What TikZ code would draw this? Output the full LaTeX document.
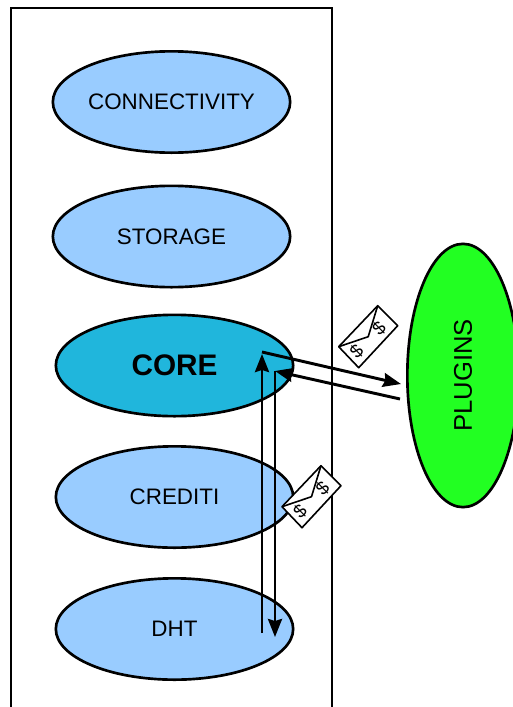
\documentclass[tikz,border=0pt]{standalone}
\usepackage{fontspec}
\setmainfont{Liberation Sans}
\usetikzlibrary{shapes.geometric,arrows.meta}
\definecolor{bubbleblue}{HTML}{99CCFF}
\definecolor{coreblue}{HTML}{20B6DC}
\definecolor{plugingreen}{HTML}{22FF22}
\tikzset{
    bubble/.style={ellipse,draw,line width=2pt,fill=bubbleblue,minimum width=178pt,minimum height=76pt,inner sep=0pt,font=\fontsize{16.8}{18}\selectfont},
    flow/.style={line width=2.2pt,-{Stealth[length=13.5pt,width=10.5pt,inset=1.5pt]}},
    envelope/.pic={
        \draw[line width=1.2pt,fill=white,line join=round] (0,0) -- (20,20) -- (-19,62) -- (-39,41) -- cycle;
        \draw[line width=1.2pt,line join=round] (-39,41) -- (-9.5,31) -- (0,0);
        \node[rotate=45,font=\fontsize{14}{14}\selectfont,inner sep=0pt] (-dollara) at (1.5,22.5) {\$};
        \node[rotate=45,font=\fontsize{14}{14}\selectfont,inner sep=0pt] (-dollarb) at (-21,46) {\$};
    }
}
\begin{document}
\begin{tikzpicture}[x=0.75pt,y=-0.75pt]
    \useasboundingbox (0,0) rectangle (512,707);
    \draw[line width=2pt] (11,730) -- (11,8) -- (332,8) -- (332,730);
    \node[bubble] (connectivity) at (171.5,102) {CONNECTIVITY};
    \node[bubble] (storage) at (171.5,236.5) {STORAGE};
    \node[bubble,fill=coreblue,font=\fontsize{22.3}{24}\bfseries] (core) at (174.5,365.5) {CORE};
    \node[bubble] (crediti) at (174.5,497) {CREDITI};
    \node[bubble] (dht) at (174.5,629) {DHT};
    \node[bubble,fill=plugingreen,minimum width=83.5pt,minimum height=197.5pt,font=\fontsize{19.2}{20}\selectfont] (plugins) at (463,375.5) {\rotatebox{90}{PLUGINS}};
    \coordinate (coreout) at (262,352);
    \coordinate (corein) at (275,371);
    \coordinate (coreup) at (262,354);
    \coordinate (plugin) at (401,384);
    \coordinate (plugout) at (400,399);
    \coordinate (dhtout) at (262,633);
    \coordinate (dhtin) at (275,637);
    \draw[flow] (coreout) -- (plugin);
    \draw[flow] (plugout) -- (corein);
    \draw[flow] (dhtout) -- (coreup);
    \draw[flow] (corein) -- (dhtin);
    \pic (envup) at (377.7,305.7) {envelope};
    \pic (envdown) at (321,465.7) {envelope};
\end{tikzpicture}
\end{document}
